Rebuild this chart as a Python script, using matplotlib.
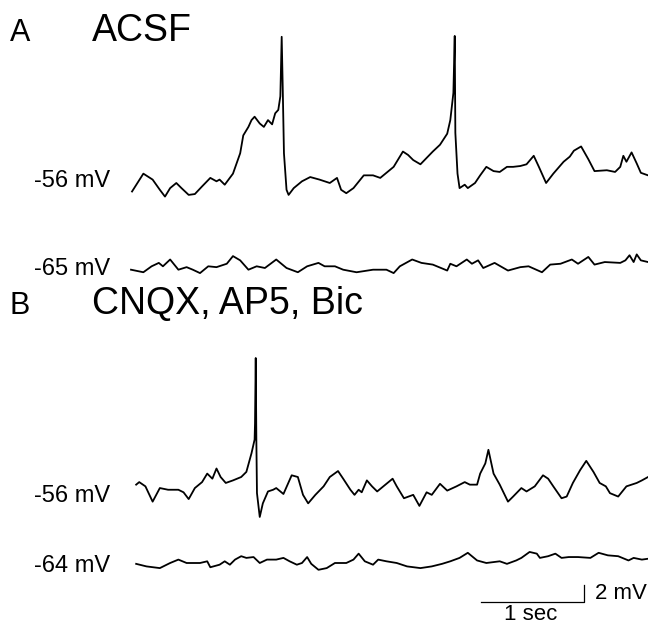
import matplotlib
matplotlib.use("Agg")
import matplotlib.pyplot as plt
import numpy as np

plt.rcParams["font.family"] = ["Liberation Sans", "DejaVu Sans"]

# Panel A (ACSF): cell depolarised to -56 mV, and the same cell at -65 mV
a_dep_t = [0.01, 0.12, 0.21, 0.28, 0.33, 0.38, 0.44, 0.49, 0.56, 0.62, 0.69, 0.77,
           0.83, 0.86, 0.91, 0.99, 1.06, 1.09, 1.14, 1.17, 1.20, 1.25, 1.29, 1.33,
           1.37, 1.40, 1.43, 1.45, 1.463, 1.473, 1.485, 1.51, 1.53, 1.58, 1.66, 1.74,
           1.83, 1.93, 2.00, 2.04, 2.09, 2.16, 2.26, 2.35, 2.42, 2.55, 2.64, 2.69,
           2.74, 2.81, 2.85, 2.93, 3.00, 3.07, 3.10, 3.13, 3.143, 3.149, 3.17, 3.19,
           3.24, 3.27, 3.34, 3.39, 3.45, 3.52, 3.58, 3.65, 3.71, 3.78, 3.84, 3.91,
           3.96, 4.03, 4.10, 4.20, 4.26, 4.30, 4.37, 4.44, 4.50, 4.62, 4.70, 4.75,
           4.78, 4.81, 4.86, 4.91, 4.95, 5.02]
a_dep_v = [-57.0, -54.9, -55.6, -56.8, -57.6, -56.6, -56.0, -56.6, -57.4, -57.3, -56.4, -55.4,
           -55.8, -55.6, -56.2, -54.9, -52.5, -50.4, -49.4, -48.6, -48.2, -49.0, -49.4, -48.6,
           -49.1, -47.8, -47.4, -45.8, -38.8, -44.7, -52.5, -56.8, -57.4, -56.6, -55.8, -55.3,
           -55.6, -56.0, -55.4, -56.8, -57.2, -56.6, -55.1, -55.1, -55.4, -54.1, -52.3, -52.7,
           -53.3, -53.8, -53.3, -52.3, -51.5, -50.2, -48.6, -45.4, -38.7, -50.1, -54.9, -56.6,
           -56.2, -56.6, -56.0, -55.1, -54.1, -54.6, -54.7, -54.1, -54.1, -54.0, -53.8, -52.8,
           -54.1, -56.0, -54.9, -53.5, -52.9, -52.2, -51.7, -53.2, -54.6, -54.5, -54.7, -54.1,
           -52.8, -53.5, -52.4, -53.7, -54.8, -55.1]

a_rest_t = [0.0, 0.12, 0.20, 0.27, 0.31, 0.38, 0.46, 0.54, 0.60, 0.67, 0.75, 0.83,
            0.93, 0.99, 1.06, 1.14, 1.22, 1.30, 1.41, 1.51, 1.62, 1.71, 1.82, 1.88,
            1.98, 2.06, 2.19, 2.35, 2.48, 2.55, 2.61, 2.73, 2.82, 2.93, 3.07, 3.10,
            3.16, 3.26, 3.31, 3.37, 3.42, 3.53, 3.66, 3.78, 3.86, 3.99, 4.07, 4.17,
            4.28, 4.34, 4.44, 4.50, 4.60, 4.75, 4.80, 4.84, 4.88, 4.91, 4.95, 5.02]
a_rest_v = [-65.2, -65.5, -64.8, -64.4, -64.8, -64.0, -65.2, -64.9, -65.2, -65.6, -64.8, -64.9,
            -64.5, -63.6, -64.1, -65.2, -64.8, -65.0, -64.0, -65.0, -65.5, -64.8, -64.4, -64.8,
            -64.8, -65.2, -65.5, -65.2, -65.2, -65.6, -64.8, -64.0, -64.4, -64.6, -65.3, -64.5,
            -64.8, -64.0, -64.5, -64.1, -65.0, -64.4, -65.3, -64.9, -64.8, -65.5, -64.6, -64.5,
            -64.0, -64.5, -63.7, -64.6, -64.3, -64.4, -64.1, -63.5, -64.3, -63.4, -64.1, -64.3]

# Panel B (CNQX, AP5, Bic): -56 mV and -64 mV
b_dep_t = [0.05, 0.08, 0.14, 0.21, 0.28, 0.36, 0.46, 0.51, 0.56, 0.62, 0.69, 0.74,
           0.79, 0.83, 0.87, 0.92, 0.99, 1.07, 1.12, 1.17, 1.20, 1.204, 1.211, 1.217,
           1.223, 1.25, 1.28, 1.33, 1.38, 1.41, 1.48, 1.56, 1.62, 1.67, 1.72, 1.79,
           1.87, 1.93, 2.01, 2.06, 2.13, 2.17, 2.21, 2.24, 2.29, 2.34, 2.39, 2.45,
           2.54, 2.58, 2.65, 2.74, 2.80, 2.87, 2.92, 3.00, 3.07, 3.16, 3.24, 3.29,
           3.36, 3.39, 3.44, 3.47, 3.52, 3.58, 3.66, 3.71, 3.79, 3.84, 3.92, 4.00,
           4.05, 4.10, 4.18, 4.23, 4.29, 4.36, 4.42, 4.49, 4.55, 4.61, 4.65, 4.73,
           4.81, 4.91, 4.96, 5.02]
b_dep_v = [-54.9, -54.6, -55.1, -56.9, -55.3, -55.5, -55.5, -55.8, -56.6, -55.3, -54.6, -53.6,
           -54.2, -53.0, -54.0, -54.7, -54.4, -54.0, -53.4, -51.2, -49.6, -47.7, -40.0, -49.6,
           -55.9, -58.7, -57.1, -55.7, -55.5, -55.3, -56.0, -53.8, -54.0, -56.1, -57.1, -56.1,
           -55.1, -54.0, -53.3, -54.2, -55.5, -56.1, -55.5, -55.8, -54.4, -55.1, -55.7, -55.1,
           -54.2, -55.1, -56.5, -56.1, -57.4, -55.8, -56.1, -54.8, -55.6, -55.1, -54.6, -54.9,
           -54.9, -53.6, -52.4, -50.8, -53.6, -54.9, -56.9, -56.3, -55.3, -55.7, -55.1, -53.8,
           -54.2, -55.1, -56.5, -56.3, -54.7, -53.2, -52.1, -53.4, -54.7, -55.1, -55.9, -56.3,
           -55.1, -54.7, -54.4, -54.0]

b_rest_t = [0.05, 0.15, 0.28, 0.38, 0.46, 0.54, 0.67, 0.74, 0.77, 0.86, 0.91, 0.96,
            1.01, 1.07, 1.12, 1.19, 1.25, 1.32, 1.41, 1.48, 1.54, 1.61, 1.66, 1.71,
            1.75, 1.82, 1.90, 1.98, 2.09, 2.16, 2.21, 2.27, 2.35, 2.40, 2.48, 2.58,
            2.68, 2.81, 2.92, 3.02, 3.10, 3.19, 3.27, 3.36, 3.45, 3.58, 3.65, 3.74,
            3.79, 3.87, 3.94, 3.97, 4.05, 4.12, 4.18, 4.25, 4.34, 4.46, 4.54, 4.63,
            4.73, 4.83, 4.88, 4.96, 5.02]
b_rest_v = [-64.1, -64.4, -64.6, -64.0, -63.6, -64.0, -64.0, -63.8, -64.5, -64.2, -63.8, -64.2,
            -63.6, -63.2, -63.4, -63.3, -64.0, -63.6, -63.6, -63.4, -63.8, -64.2, -64.0, -63.3,
            -64.1, -64.8, -64.6, -64.0, -64.0, -63.6, -62.9, -63.8, -64.2, -63.6, -63.8, -64.0,
            -64.4, -64.6, -64.4, -64.1, -63.8, -63.4, -62.8, -63.7, -64.0, -63.8, -64.1, -63.7,
            -63.4, -62.7, -62.9, -63.4, -63.2, -62.9, -63.4, -63.3, -63.3, -63.4, -62.8, -63.1,
            -63.2, -63.7, -63.4, -63.6, -63.5]

# holding levels written next to each trace
levels = [-56, -65, -56, -64]
panels = ["A", "B"]
conditions = ["ACSF", "CNQX, AP5, Bic"]

# layout: 103 px per second, 8.5 px per mV on a 648 x 627 px canvas
W, H = 648, 627
X0 = 131
PX_S, PX_MV = 103.0, 8.5


def row(py):
    return (H - py) / PX_MV


fig = plt.figure(figsize=(W / 100, H / 100), dpi=100)
ax = fig.add_axes([0, 0, 1, 1])
ax.set_xlim(-X0 / PX_S, (W - X0) / PX_S)
ax.set_ylim(0, H / PX_MV)
ax.axis("off")

traces = [(a_dep_t, a_dep_v, 183), (a_rest_t, a_rest_v, 268),
          (b_dep_t, b_dep_v, 494), (b_rest_t, b_rest_v, 563)]
label_base = [187, 275, 502, 572]

for (t, v, py), lvl, lb in zip(traces, levels, label_base):
    y = np.asarray(v) - lvl + row(py)
    ax.plot(t, y, color="black", lw=1.3, solid_joinstyle="round")
    ax.text((110 - X0) / PX_S, row(lb), f"{lvl} mV", ha="right", va="baseline",
            fontsize=17)

for p, cond, py in zip(panels, conditions, [41, 314]):
    fig.text(10 / W, 1 - py / H, p, fontsize=22, va="baseline")
    fig.text(92 / W, 1 - py / H, cond, fontsize=27, va="baseline")

# scale bar: 1 sec, 2 mV
sx = (584 - X0) / PX_S
sy = row(602)
ax.plot([sx - 1, sx, sx], [sy, sy, sy + 2], color="black", lw=0.9)
ax.text(sx + 0.107, sy + 1.05, "2 mV", fontsize=16, va="center", ha="left")
ax.text(sx - 0.52, row(620), "1 sec", fontsize=16, va="baseline", ha="center")

fig.savefig("out.png", dpi=100)
